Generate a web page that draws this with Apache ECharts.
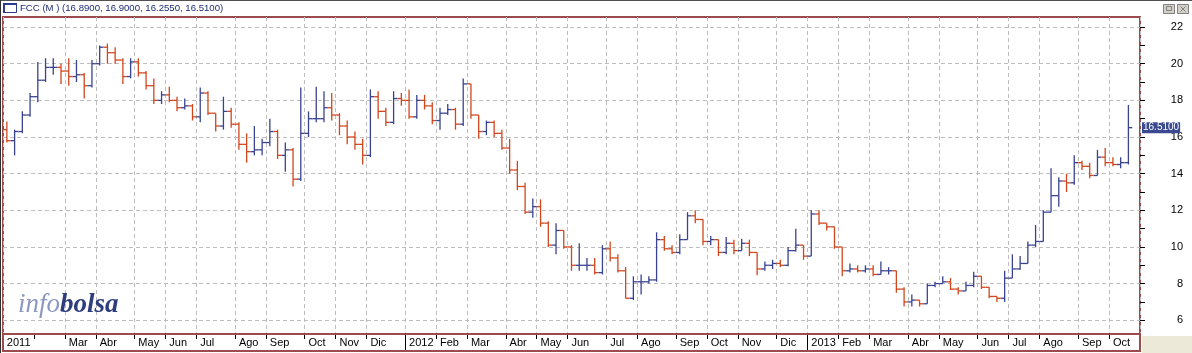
<!DOCTYPE html>
<html>
<head>
<meta charset="utf-8">
<script src="https://cdn.jsdelivr.net/npm/echarts@6/dist/echarts.min.js"></script>
<style>
html, body { margin: 0; padding: 0; background: #fff; }
#chart { width: 1192px; height: 353px; }
</style>
</head>
<body>
<div id="chart"></div>
<script>
// weekly bars (week ending friday)
var dates = [
  '2011-01-07','2011-01-14','2011-01-21','2011-01-28','2011-02-04','2011-02-11','2011-02-18','2011-02-25',
  '2011-03-04','2011-03-11','2011-03-18','2011-03-25','2011-04-01','2011-04-08','2011-04-15','2011-04-22',
  '2011-04-29','2011-05-06','2011-05-13','2011-05-20','2011-05-27','2011-06-03','2011-06-10','2011-06-17',
  '2011-06-24','2011-07-01','2011-07-08','2011-07-15','2011-07-22','2011-07-29','2011-08-05','2011-08-12',
  '2011-08-19','2011-08-26','2011-09-02','2011-09-09','2011-09-16','2011-09-23','2011-09-30','2011-10-07',
  '2011-10-14','2011-10-21','2011-10-28','2011-11-04','2011-11-11','2011-11-18','2011-11-25','2011-12-02',
  '2011-12-09','2011-12-16','2011-12-23','2011-12-30',
  '2012-01-06','2012-01-13','2012-01-20','2012-01-27','2012-02-03','2012-02-10','2012-02-17','2012-02-24',
  '2012-03-02','2012-03-09','2012-03-16','2012-03-23','2012-03-30','2012-04-06','2012-04-13','2012-04-20',
  '2012-04-27','2012-05-04','2012-05-11','2012-05-18','2012-05-25','2012-06-01','2012-06-08','2012-06-15',
  '2012-06-22','2012-06-29','2012-07-06','2012-07-13','2012-07-20','2012-07-27','2012-08-03','2012-08-10',
  '2012-08-17','2012-08-24','2012-08-31','2012-09-07','2012-09-14','2012-09-21','2012-09-28','2012-10-05',
  '2012-10-12','2012-10-19','2012-10-26','2012-11-02','2012-11-09','2012-11-16','2012-11-23','2012-11-30',
  '2012-12-07','2012-12-14','2012-12-21','2012-12-28',
  '2013-01-04','2013-01-11','2013-01-18','2013-01-25','2013-02-01','2013-02-08','2013-02-15','2013-02-22',
  '2013-03-01','2013-03-08','2013-03-15','2013-03-22','2013-03-29','2013-04-05','2013-04-12','2013-04-19',
  '2013-04-26','2013-05-03','2013-05-10','2013-05-17','2013-05-24','2013-05-31','2013-06-07','2013-06-14',
  '2013-06-21','2013-06-28','2013-07-05','2013-07-12','2013-07-19','2013-07-26','2013-08-02','2013-08-09',
  '2013-08-16','2013-08-23','2013-08-30','2013-09-06','2013-09-13','2013-09-20','2013-09-27','2013-10-04',
  '2013-10-11','2013-10-18'
];

var openPx = [
  16.4,15.8,16.3,17.2,18.2,19.1,19.8,19.8,19.6,19.3,19.4,18.8,20.0,20.9,20.6,20.2,19.3,20.1,19.5,18.8,
  18.0,18.3,18.0,17.6,17.7,17.1,18.4,17.3,16.6,17.4,16.7,15.6,15.2,15.3,15.7,16.3,15.0,15.3,13.7,16.2,
  17.0,17.0,17.6,17.2,16.6,16.0,15.6,15.0,18.2,17.4,16.8,18.1,
  18.0,17.1,18.0,17.7,16.9,17.3,17.5,16.7,18.9,17.2,16.3,16.8,16.2,15.4,14.2,13.3,11.9,12.2,
  11.3,10.1,10.9,10.0,9.0,9.0,9.0,8.6,9.9,9.4,8.7,7.2,8.1,8.1,8.2,10.4,9.9,9.7,10.4,11.7,
  11.5,10.3,10.4,9.7,10.2,9.8,10.2,9.7,8.8,9.0,9.1,9.0,9.8,10.1,
  9.5,11.8,11.3,11.1,10.0,8.7,8.8,8.7,8.8,8.5,8.7,8.7,7.7,7.0,7.1,6.9,7.9,8.0,8.1,7.7,
  7.6,7.9,8.4,7.8,7.3,7.2,8.3,8.8,9.1,10.1,10.3,11.9,12.8,13.6,13.5,14.6,14.4,13.9,14.9,14.6,
  14.5,14.6
];
var highPx = [
  16.85,16.4,17.4,18.4,20.1,20.3,20.3,20.0,20.3,20.2,19.5,20.2,21.0,21.1,20.9,20.3,20.3,20.3,19.6,19.2,
  18.5,18.75,18.2,18.1,17.8,18.7,18.5,17.3,18.2,17.6,16.8,16.2,16.6,15.9,17.0,16.4,15.7,15.4,18.7,17.4,
  18.75,18.5,18.4,17.3,16.9,16.3,15.9,18.6,18.5,17.6,18.5,18.4,
  18.6,18.3,18.3,17.9,17.6,17.8,17.6,19.2,18.9,17.2,16.9,16.9,16.4,15.9,14.7,13.5,12.65,12.6,
  11.4,11.3,10.9,10.1,10.2,9.4,9.4,10.1,10.3,9.6,8.9,8.4,8.5,8.4,10.8,10.6,10.1,10.7,11.9,12.0,
  11.5,10.6,10.4,10.55,10.4,10.45,10.4,9.7,9.2,9.3,9.3,10.0,11.0,10.1,
  12.0,12.0,11.3,11.1,10.0,9.1,9.0,9.0,9.0,9.2,8.9,8.7,7.8,7.4,7.1,8.0,8.1,8.4,8.3,7.8,
  8.1,8.65,8.4,7.8,7.3,8.7,9.6,9.5,10.3,11.2,12.0,14.3,13.8,14.0,15.0,14.7,14.6,15.3,15.4,14.9,
  14.9,17.75
];
var lowPx = [
  15.7,15.0,16.2,17.1,17.9,19.0,19.4,18.9,18.8,19.0,18.1,18.7,19.9,20.0,20.0,18.9,19.2,19.3,18.6,17.8,
  17.8,17.9,17.4,17.5,16.9,16.8,17.2,16.3,16.4,16.5,15.3,14.6,15.0,15.0,15.5,14.8,14.1,13.3,13.6,16.0,
  16.8,16.8,16.9,16.1,15.6,15.3,14.5,14.9,17.0,16.6,16.7,17.7,
  17.0,17.0,17.5,16.7,16.4,17.2,16.4,16.6,17.0,15.9,16.1,16.0,15.3,14.0,13.1,11.8,11.6,11.1,
  10.0,9.6,9.9,8.7,8.7,8.7,8.5,8.5,9.2,8.6,7.2,7.1,7.4,8.0,8.1,9.8,9.6,9.6,10.4,11.3,
  10.1,10.1,9.5,9.6,9.6,9.8,9.5,8.45,8.7,8.8,8.9,8.95,9.75,9.3,
  9.5,11.2,10.9,9.9,8.4,8.6,8.6,8.6,8.4,8.5,8.5,7.5,6.75,6.75,6.75,6.9,7.8,8.0,7.65,7.4,
  7.6,7.8,7.7,7.2,7.0,7.0,8.3,8.75,9.1,10.0,10.3,11.9,12.2,13.0,13.4,14.2,13.75,13.9,14.4,14.4,
  14.3,14.5
];
var closePx = [
  15.8,16.3,17.2,18.2,19.1,19.8,19.8,19.6,19.3,19.4,18.8,20.0,20.9,20.6,20.2,19.3,20.1,19.5,18.8,18.0,
  18.3,18.0,17.6,17.7,17.1,18.4,17.3,16.6,17.4,16.7,15.6,15.2,15.3,15.7,16.3,15.0,15.3,13.7,16.2,17.0,
  17.0,17.6,17.2,16.6,16.0,15.6,15.0,18.2,17.4,16.8,18.1,18.0,
  17.1,18.0,17.7,16.9,17.3,17.5,16.7,18.9,17.2,16.3,16.8,16.2,15.4,14.2,13.3,11.9,12.2,11.3,
  10.1,10.9,10.0,9.0,9.0,9.0,8.6,9.9,9.4,8.7,7.2,8.1,8.1,8.2,10.4,9.9,9.7,10.4,11.7,11.5,
  10.3,10.4,9.7,10.2,9.8,10.2,9.7,8.8,9.0,9.1,9.0,9.8,10.1,9.5,
  11.8,11.3,11.1,10.0,8.7,8.8,8.7,8.8,8.5,8.7,8.7,7.7,7.0,7.1,6.9,7.9,8.0,8.1,7.7,7.6,
  7.9,8.4,7.8,7.3,7.2,8.3,8.8,9.1,10.1,10.3,11.9,12.8,13.6,13.5,14.6,14.4,13.9,14.9,14.6,14.5,
  14.6,16.51
];

// last session: open, high, low, close
var lastDay = [16.89, 16.90, 16.255, 16.51];

var monthNames = ['Ene','Feb','Mar','Abr','May','Jun','Jul','Ago','Sep','Oct','Nov','Dic'];
var unlabeledMonths = ['2011-02'];
var yTicks = [6,7,8,9,10,11,12,13,14,15,16,17,18,19,20,21,22];
var yLabels = [6,8,10,12,14,16,18,20,22];

var UP = '#394391';
var DOWN = '#D2461E';
var FRAME = '#9B4D4D';
var GRID = '#BDBDBD';
var FONT = '"Liberation Sans", Arial, sans-serif';

function isMonthStart(i) {
  if (i < 0 || i >= dates.length) return false;
  return i === 0 || dates[i].slice(0, 7) !== dates[i - 1].slice(0, 7);
}
function isLabeledMonth(i) {
  return isMonthStart(i) && unlabeledMonths.indexOf(dates[i].slice(0, 7)) < 0;
}
function isYearStart(i) {
  if (i <= 0 || i >= dates.length) return false;
  return dates[i].slice(0, 4) !== dates[i - 1].slice(0, 4);
}

var ohlc = dates.map(function (d, i) {
  return [i, openPx[i], highPx[i], lowPx[i], closePx[i]];
});

function renderOhlc(params, api) {
  var i = api.value(0);
  var o = api.coord([i, api.value(1)]);
  var h = api.coord([i, api.value(2)]);
  var l = api.coord([i, api.value(3)]);
  var c = api.coord([i, api.value(4)]);
  var half = api.size([1, 0])[0] / 2;
  var col = api.value(4) >= api.value(1) ? UP : DOWN;
  var st = { stroke: col, lineWidth: 1.3 };
  return {
    type: 'group',
    children: [
      { type: 'line', shape: { x1: h[0], y1: h[1], x2: l[0], y2: l[1] }, style: st },
      { type: 'line', shape: { x1: o[0] - half, y1: o[1], x2: o[0], y2: o[1] }, style: st },
      { type: 'line', shape: { x1: c[0], y1: c[1], x2: c[0] + half, y2: c[1] }, style: st }
    ]
  };
}

var gridLines = yLabels.map(function (v) {
  return { yAxis: v, lineStyle: { color: GRID, type: [4, 3], width: 1 }, label: { show: false } };
});

var titleText = 'FCC (M ) (' + lastDay.map(function (v) { return v.toFixed(4); }).join(', ') + ')';

var chart = echarts.init(document.getElementById('chart'));
var option = {
  animation: false,
  backgroundColor: '#fff',
  grid: { left: 3, top: 17, right: 52, bottom: 19, show: true, borderColor: FRAME, borderWidth: 2, backgroundColor: '#fff' },
  xAxis: [{
    type: 'category',
    data: dates,
    max: dates.length,
    axisLine: { show: false },
    axisTick: { show: true, length: 5, interval: function (i) { return isMonthStart(i); }, lineStyle: { color: '#000' } },
    axisLabel: {
      interval: function (i) { return isLabeledMonth(i); },
      formatter: function (val) {
        var m = parseInt(val.slice(5, 7), 10);
        return m === 1 ? val.slice(0, 4) : monthNames[m - 1];
      },
      align: 'left', margin: 3, fontSize: 11, fontFamily: FONT, color: '#000'
    },
    splitLine: { show: true, interval: function (i) { return isLabeledMonth(i); }, lineStyle: { color: GRID, type: [4, 3] } }
  }, {
    type: 'category',
    data: dates,
    max: dates.length,
    position: 'bottom',
    axisLine: { show: false },
    axisLabel: { show: false },
    splitLine: { show: false },
    axisTick: { show: true, length: 16, interval: function (i) { return isYearStart(i); }, lineStyle: { color: '#000' } }
  }],
  yAxis: {
    type: 'value',
    position: 'right',
    min: 5.25,
    max: 22.55,
    axisLine: { show: false },
    axisTick: { show: true, length: 5, customValues: yTicks, lineStyle: { color: '#000' } },
    axisLabel: { customValues: yLabels, align: 'right', margin: 43, fontSize: 11, fontFamily: FONT, color: '#000' },
    splitLine: { show: false }
  },
  series: [{
    type: 'custom',
    renderItem: renderOhlc,
    encode: { x: 0, y: [1, 2, 3, 4] },
    data: ohlc,
    z: 3,
    markLine: {
      silent: true,
      symbol: ['none', 'none'],
      z: 1,
      data: gridLines
    }
  }, {
    type: 'custom',
    renderItem: function () { return null; },
    data: [],
    z: 6,
    markLine: {
      silent: true,
      symbol: ['none', 'none'],
      data: [{
        yAxis: lastDay[3],
        lineStyle: { color: 'rgba(0,0,0,0)', width: 1 },
        label: {
          show: true, position: 'end', distance: 2,
          formatter: lastDay[3].toFixed(4),
          backgroundColor: '#3B4A90', color: '#fff',
          padding: [1, 1, 0, 1], fontSize: 10, fontFamily: FONT
        }
      }]
    }
  }],
  graphic: [
    { type: 'line', shape: { x1: 0, y1: 0.5, x2: 1192, y2: 0.5 }, style: { stroke: '#505050', lineWidth: 1 } },
    { type: 'line', shape: { x1: 0.5, y1: 0, x2: 0.5, y2: 353 }, style: { stroke: '#303030', lineWidth: 1 } },
    // title icon
    { type: 'rect', shape: { x: 3.5, y: 3.5, width: 13, height: 9 }, style: { fill: '#fff', stroke: '#2B3B8E', lineWidth: 1 } },
    { type: 'rect', shape: { x: 3, y: 3, width: 14, height: 2 }, style: { fill: '#2B3B8E' } },
    { type: 'rect', shape: { x: 3, y: 3, width: 2, height: 10 }, style: { fill: '#2B3B8E' } },
    { type: 'text', x: 20, y: 8, style: { text: titleText, fill: '#1F2C77', font: '9.6px ' + FONT, verticalAlign: 'middle' } },
    // window buttons
    { type: 'rect', shape: { x: 1163.5, y: 4.5, width: 11, height: 9 }, style: { fill: '#D4D0C8', stroke: '#808080', lineWidth: 1 } },
    { type: 'rect', shape: { x: 1166.5, y: 6.5, width: 5, height: 4 }, style: { fill: 'none', stroke: '#808080', lineWidth: 1 } },
    { type: 'rect', shape: { x: 1177.5, y: 4.5, width: 11, height: 9 }, style: { fill: '#D4D0C8', stroke: '#808080', lineWidth: 1 } },
    { type: 'line', shape: { x1: 1180.5, y1: 6.5, x2: 1185.5, y2: 11.5 }, style: { stroke: '#808080', lineWidth: 1 } },
    { type: 'line', shape: { x1: 1185.5, y1: 6.5, x2: 1180.5, y2: 11.5 }, style: { stroke: '#808080', lineWidth: 1 } },
    // label band under the plot
    { type: 'rect', z: 10, shape: { x: 3, y: 334, width: 1137, height: 17 }, style: { fill: 'none', stroke: FRAME, lineWidth: 2 } },
    { type: 'rect', z: 10, shape: { x: 1142, y: 336, width: 50, height: 17 }, style: { fill: '#ECE9D8' } },
    // watermark
    {
      type: 'text', x: 18, y: 305, z: 5,
      style: {
        text: '{a|info}{b|bolsa}',
        verticalAlign: 'middle',
        rich: {
          a: { font: 'italic 27px "Liberation Serif", "DejaVu Serif", serif', fill: '#8E97BF' },
          b: { font: 'italic bold 27px "Liberation Serif", "DejaVu Serif", serif', fill: '#2E3D7E' }
        }
      }
    }
  ]
};
chart.setOption(option);
</script>
</body>
</html>
